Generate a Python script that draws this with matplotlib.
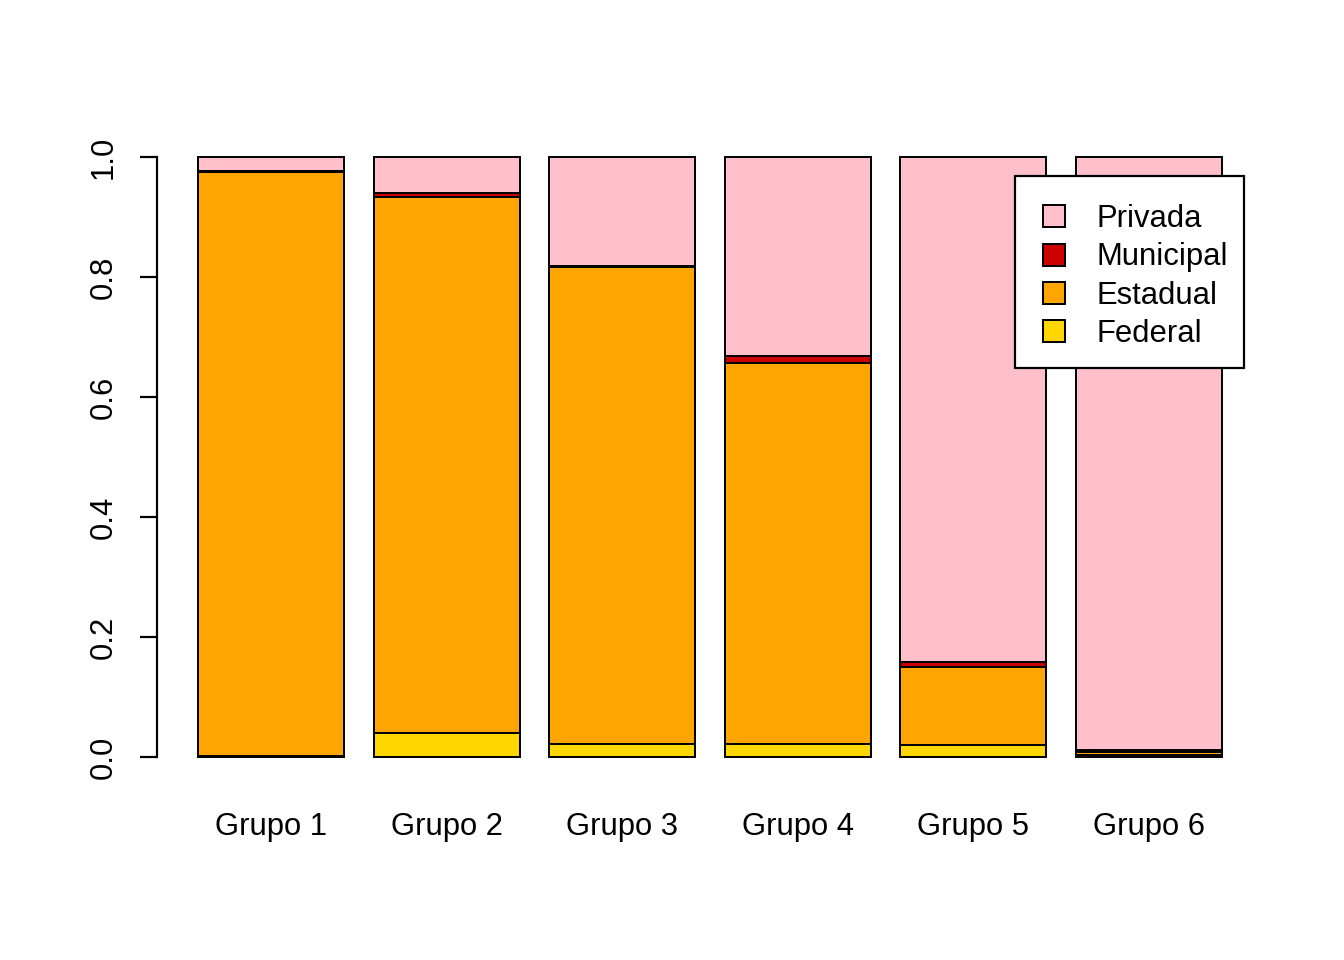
import matplotlib.pyplot as plt
import matplotlib.patches as mpatches
import numpy as np

plt.rcParams['font.family'] = ['Liberation Sans', 'DejaVu Sans']

grupos = ["Grupo 1", "Grupo 2", "Grupo 3", "Grupo 4", "Grupo 5", "Grupo 6"]
federal = [0.001, 0.040, 0.022, 0.022, 0.020, 0.004]
estadual = [0.974, 0.894, 0.794, 0.635, 0.130, 0.005]
municipal = [0.001, 0.006, 0.002, 0.011, 0.009, 0.003]
privada = [0.024, 0.060, 0.182, 0.332, 0.841, 0.988]

cores = {"Federal": "#FFD700", "Estadual": "#FFA500",
         "Municipal": "#CD0000", "Privada": "#FFC0CB"}

fs = 15.5
fig = plt.figure(figsize=(1344/144, 960/144), dpi=144)
ax = fig.add_axes([157/1344, 1 - 781/960, 1106/1344, 648/960])

x = 0.7 + 1.2*np.arange(len(grupos))
base = np.zeros(len(grupos))
barras = {}
for nome, vals in [("Federal", federal), ("Estadual", estadual),
                   ("Municipal", municipal), ("Privada", privada)]:
    barras[nome] = ax.bar(x, vals, width=1, bottom=base, color=cores[nome],
                          edgecolor='black', linewidth=1.0)
    base = base + np.array(vals)

ax.set_xlim(-0.08, 7.48)
ax.set_ylim(-0.04, 1.04)
for s in ['top', 'right', 'bottom']:
    ax.spines[s].set_visible(False)
ax.spines['left'].set_bounds(0, 1)
ax.spines['left'].set_linewidth(1.1)

ax.set_yticks([0, 0.2, 0.4, 0.6, 0.8, 1.0])
ax.set_yticklabels(["0.0", "0.2", "0.4", "0.6", "0.8", "1.0"])
ax.tick_params(axis='y', length=8.5, width=1.1, labelsize=fs, pad=10.5)
plt.setp(ax.get_yticklabels(), rotation=90, rotation_mode='anchor')
for lab in ax.get_yticklabels():
    lab.set_ha('center')
    lab.set_va('bottom')

ax.set_xticks(x)
ax.set_xticklabels(grupos)
ax.tick_params(axis='x', length=0, labelsize=fs, pad=15.5)

# caixa da legenda (estilo R)
caixa = mpatches.Rectangle((0.7758, 0.6373), 0.2071, 0.2963,
                           transform=ax.transAxes, facecolor='white',
                           edgecolor='black', linewidth=1.1, zorder=4,
                           clip_on=False)
ax.add_patch(caixa)

nomes = ["Privada", "Municipal", "Estadual", "Federal"]
leg = ax.legend([barras[n] for n in nomes], nomes, loc='upper left',
                bbox_to_anchor=(0.8011, 0.8904), borderaxespad=0,
                fontsize=fs, frameon=False,
                handlelength=0.72, handleheight=0.72, handletextpad=1.0,
                labelspacing=0.27, borderpad=0)
leg.set_zorder(5)

fig.savefig("out.png", dpi=144)
